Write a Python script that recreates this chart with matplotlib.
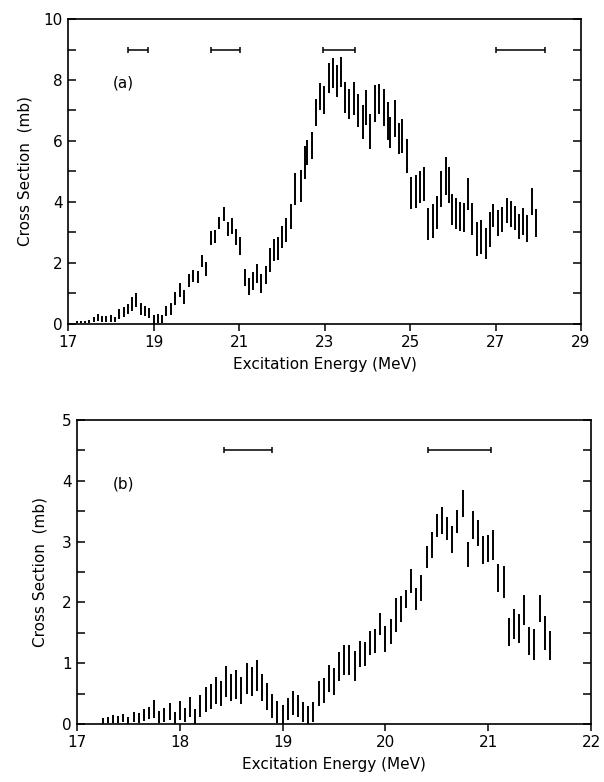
import matplotlib
matplotlib.use("Agg")
import matplotlib.pyplot as plt
from matplotlib.ticker import MultipleLocator

# ---- panel (a): 17-29 MeV ----
ea = [17.20, 17.30, 17.40, 17.50, 17.60, 17.70, 17.80, 17.90, 18.00, 18.10,
      18.20, 18.30, 18.40, 18.50, 18.60, 18.70, 18.80, 18.90, 19.00, 19.10,
      19.20, 19.30, 19.40, 19.50, 19.61, 19.72, 19.83, 19.93, 20.03, 20.13,
      20.23, 20.34, 20.44, 20.54, 20.64, 20.74, 20.84, 20.94, 21.03, 21.13,
      21.23, 21.33, 21.43, 21.52, 21.62, 21.72, 21.82, 21.92, 22.01, 22.11,
      22.21, 22.31, 22.44, 22.54, 22.60, 22.70, 22.79, 22.89, 22.99, 23.10,
      23.19, 23.29, 23.38, 23.48, 23.58, 23.69, 23.79, 23.89, 23.98, 24.07,
      24.18, 24.28, 24.38, 24.48, 24.54, 24.64, 24.74, 24.82, 24.92, 25.03,
      25.13, 25.23, 25.33, 25.43, 25.53, 25.63, 25.73, 25.83, 25.92, 25.97,
      26.07, 26.17, 26.26, 26.36, 26.46, 26.57, 26.67, 26.77, 26.87, 26.95,
      27.06, 27.16, 27.26, 27.36, 27.46, 27.55, 27.65, 27.74, 27.85, 27.94]
sa = [0.07, 0.07, 0.07, 0.09, 0.16, 0.21, 0.16, 0.16, 0.18, 0.14,
      0.32, 0.40, 0.50, 0.65, 0.79, 0.50, 0.42, 0.35, 0.12, 0.18,
      0.17, 0.42, 0.49, 0.84, 1.12, 0.90, 1.42, 1.57, 1.54, 2.06,
      1.80, 2.82, 2.87, 3.31, 3.61, 3.10, 3.21, 2.85, 2.55, 1.51,
      1.22, 1.42, 1.66, 1.32, 1.61, 2.10, 2.43, 2.48, 2.85, 3.08,
      3.53, 4.42, 4.52, 5.30, 5.62, 5.84, 6.93, 7.46, 7.35, 8.06,
      8.22, 7.97, 8.26, 7.43, 7.22, 7.40, 7.00, 6.62, 7.10, 6.31,
      7.23, 7.37, 7.10, 6.66, 6.27, 6.74, 6.09, 6.15, 5.51, 4.29,
      4.34, 4.50, 4.59, 3.28, 3.37, 3.65, 4.42, 4.85, 4.55, 3.75,
      3.63, 3.52, 3.48, 4.26, 3.45, 2.78, 2.86, 2.63, 3.11, 3.56,
      3.31, 3.44, 3.71, 3.61, 3.47, 3.20, 3.36, 3.14, 4.02, 3.30]
da = [0.04, 0.04, 0.04, 0.05, 0.08, 0.11, 0.10, 0.10, 0.12, 0.08,
      0.16, 0.16, 0.17, 0.22, 0.22, 0.20, 0.17, 0.16, 0.16, 0.14,
      0.13, 0.17, 0.19, 0.22, 0.24, 0.23, 0.22, 0.19, 0.19, 0.19,
      0.22, 0.23, 0.22, 0.21, 0.22, 0.23, 0.25, 0.26, 0.29, 0.28,
      0.28, 0.30, 0.31, 0.31, 0.30, 0.38, 0.37, 0.38, 0.37, 0.38,
      0.40, 0.52, 0.52, 0.55, 0.42, 0.44, 0.44, 0.45, 0.46, 0.50,
      0.49, 0.52, 0.50, 0.52, 0.50, 0.55, 0.55, 0.56, 0.57, 0.58,
      0.60, 0.50, 0.62, 0.63, 0.51, 0.60, 0.51, 0.56, 0.55, 0.52,
      0.55, 0.53, 0.57, 0.52, 0.56, 0.55, 0.60, 0.61, 0.59, 0.50,
      0.50, 0.48, 0.48, 0.52, 0.53, 0.55, 0.56, 0.51, 0.57, 0.39,
      0.43, 0.41, 0.41, 0.42, 0.40, 0.42, 0.43, 0.44, 0.45, 0.46]
res_a_lo = [18.40, 20.35, 22.97, 27.01]
res_a_hi = [18.87, 21.02, 23.71, 28.16]
xticks_a = [17, 19, 21, 23, 25, 27, 29]

# ---- panel (b): 17-22 MeV ----
eb = [17.25, 17.30, 17.35, 17.40, 17.45, 17.50, 17.55, 17.60, 17.65, 17.70,
      17.75, 17.80, 17.85, 17.90, 17.95, 18.00, 18.05, 18.10, 18.15, 18.20,
      18.25, 18.30, 18.35, 18.40, 18.45, 18.50, 18.55, 18.60, 18.65, 18.70,
      18.75, 18.80, 18.85, 18.90, 18.95, 19.00, 19.05, 19.10, 19.15, 19.20,
      19.25, 19.30, 19.35, 19.40, 19.45, 19.50, 19.55, 19.60, 19.65, 19.70,
      19.75, 19.80, 19.85, 19.90, 19.95, 20.00, 20.05, 20.10, 20.15, 20.20,
      20.25, 20.30, 20.35, 20.40, 20.45, 20.50, 20.55, 20.60, 20.65, 20.70,
      20.75, 20.80, 20.85, 20.90, 20.95, 21.00, 21.05, 21.10, 21.15, 21.20,
      21.25, 21.30, 21.35, 21.40, 21.45, 21.50, 21.55, 21.60]
sb = [0.05, 0.06, 0.08, 0.07, 0.10, 0.06, 0.12, 0.10, 0.15, 0.18,
      0.25, 0.12, 0.15, 0.20, 0.10, 0.22, 0.15, 0.28, 0.12, 0.30,
      0.40, 0.45, 0.55, 0.50, 0.70, 0.60, 0.65, 0.55, 0.75, 0.70,
      0.80, 0.60, 0.45, 0.30, 0.20, 0.15, 0.25, 0.35, 0.30, 0.20,
      0.15, 0.20, 0.50, 0.55, 0.75, 0.70, 0.95, 1.05, 1.05, 0.95,
      1.15, 1.15, 1.33, 1.36, 1.65, 1.40, 1.52, 1.80, 1.89, 2.05,
      2.35, 2.06, 2.24, 2.75, 2.94, 3.26, 3.35, 3.22, 3.04, 3.33,
      3.63, 2.79, 3.27, 3.14, 2.86, 2.89, 2.94, 2.40, 2.34, 1.51,
      1.64, 1.57, 1.87, 1.36, 1.31, 1.90, 1.50, 1.29]
db = [0.05, 0.05, 0.06, 0.06, 0.07, 0.06, 0.08, 0.08, 0.10, 0.10,
      0.15, 0.10, 0.12, 0.14, 0.10, 0.15, 0.12, 0.16, 0.12, 0.18,
      0.20, 0.20, 0.22, 0.20, 0.25, 0.22, 0.24, 0.22, 0.25, 0.24,
      0.25, 0.22, 0.22, 0.20, 0.18, 0.16, 0.18, 0.20, 0.18, 0.16,
      0.15, 0.16, 0.20, 0.20, 0.22, 0.22, 0.24, 0.25, 0.25, 0.25,
      0.22, 0.20, 0.20, 0.20, 0.18, 0.21, 0.20, 0.28, 0.21, 0.15,
      0.20, 0.18, 0.21, 0.18, 0.21, 0.19, 0.22, 0.19, 0.22, 0.19,
      0.22, 0.20, 0.23, 0.21, 0.23, 0.22, 0.25, 0.23, 0.26, 0.23,
      0.25, 0.24, 0.25, 0.23, 0.25, 0.22, 0.28, 0.24]
res_b_lo = [18.43, 20.41]
res_b_hi = [18.90, 21.03]

plt.rcParams['font.family'] = ['DejaVu Sans']
fig = plt.figure(figsize=(6.04, 7.82), dpi=100)
ax1 = fig.add_axes([0.1126, 0.5857, 0.8494, 0.3900])
ax2 = fig.add_axes([0.1275, 0.0742, 0.8510, 0.3887])


def style(ax):
    for s in ax.spines.values():
        s.set_linewidth(1.2)
    ax.tick_params(axis='x', which='both', direction='out', length=5, width=1.1,
                   labelsize=11, pad=3)
    ax.tick_params(axis='y', which='both', direction='in', length=6, width=1.1,
                   labelsize=11, right=True, pad=4)


def draw(ax, e, s, d, lo, hi, ylev):
    ax.errorbar(e, s, yerr=d, fmt='none', ecolor='black', elinewidth=1.4, capsize=0)
    mid = [(a + b) / 2 for a, b in zip(lo, hi)]
    half = [(b - a) / 2 for a, b in zip(lo, hi)]
    ax.errorbar(mid, [ylev] * len(mid), xerr=half, fmt='none', ecolor='black',
                elinewidth=1.1, capsize=2.5, capthick=1.1)


draw(ax1, ea, sa, da, res_a_lo, res_a_hi, 9.0)
ax1.set_xlim(17, 29)
ax1.set_ylim(0, 10)
ax1.set_xticks(xticks_a)
ax1.yaxis.set_major_locator(MultipleLocator(2))
ax1.yaxis.set_minor_locator(MultipleLocator(1))
style(ax1)
ax1.set_xlabel('Excitation Energy (MeV)', fontsize=11, labelpad=5)
ax1.set_ylabel('Cross Section  (mb)', fontsize=11, labelpad=8)
ax1.text(18.05, 7.9, '(a)', fontsize=11, va='center')

draw(ax2, eb, sb, db, res_b_lo, res_b_hi, 4.5)
ax2.set_xlim(17, 22)
ax2.set_ylim(0, 5)
ax2.xaxis.set_major_locator(MultipleLocator(1))
ax2.yaxis.set_major_locator(MultipleLocator(1))
ax2.yaxis.set_minor_locator(MultipleLocator(0.5))
style(ax2)
ax2.set_xlabel('Excitation Energy (MeV)', fontsize=11, labelpad=5)
ax2.set_ylabel('Cross Section  (mb)', fontsize=11, labelpad=10)
ax2.text(17.35, 3.95, '(b)', fontsize=11, va='center')

fig.savefig('out.png', dpi=100)
